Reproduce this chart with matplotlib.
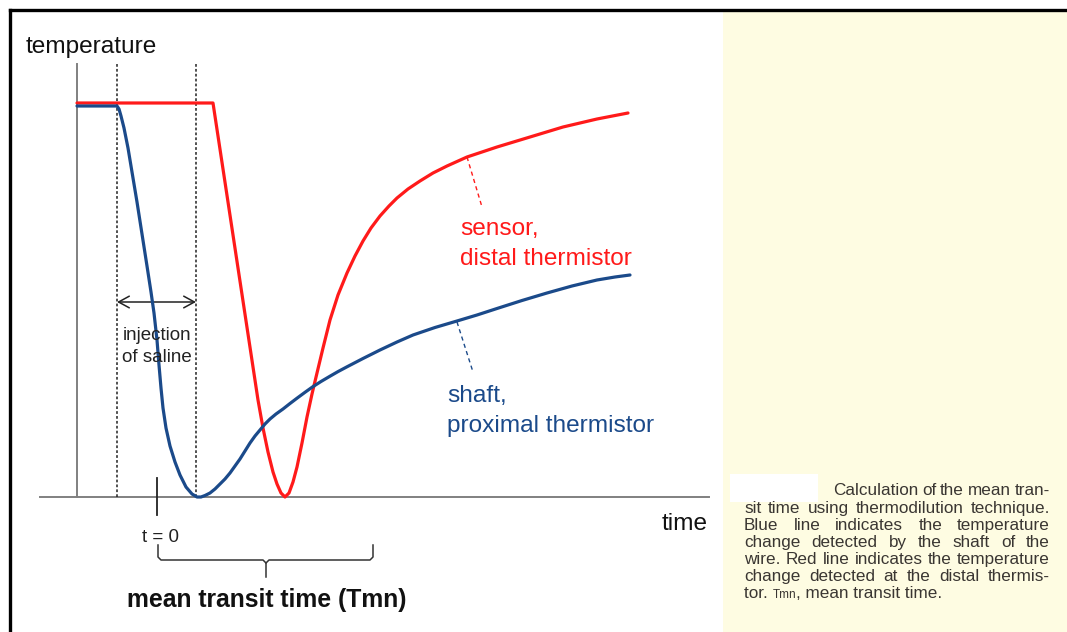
import matplotlib
matplotlib.use('Agg')
import matplotlib.pyplot as plt
from matplotlib.transforms import Affine2D
from matplotlib.patches import Rectangle, FancyArrowPatch
from matplotlib.lines import Line2D

W, H = 1067, 632

# ---------------- data (arbitrary units: time 0 at the "t = 0" mark;
# temperature 0 at the lowest point, resting level ~394) ----------------
time_red = [-80, 56, 101, 106, 111, 116, 120, 124, 128, 132,
            136, 140, 145, 150, 155, 160, 166, 173, 181, 190,
            198, 206, 214, 223, 232, 240, 251, 263, 276, 290,
            310, 340, 373, 406, 440, 471]
temp_red = [394, 394, 97, 69, 45, 25, 13, 4, 0, 4,
            15, 30, 54, 80, 103, 124, 149, 177, 202, 224,
            241, 256, 269, 281, 291, 299, 308, 316, 324, 331,
            340, 350, 360, 370, 378, 384]

time_blue = [-80, -40, -38, -36, -33, -29, -25, -20, -15, -10,
             -6, -3, 0, 2, 4, 6, 9, 13, 18, 23,
             29, 35, 40, 44, 48, 53, 58, 63, 68, 73,
             78, 83, 88, 93, 98, 103, 108, 113, 119, 126,
             133, 140, 148, 156, 164, 173, 181, 190, 206, 223,
             240, 256, 278, 300, 320, 340, 365, 390, 415, 440,
             458, 473]
temp_blue = [391, 391, 388, 381, 369, 349, 325, 295, 263, 231,
             205, 184, 157, 132, 109, 89, 69, 51, 35, 22,
             10, 3, 0, 0, 1.5, 4, 8, 13, 18, 24,
             31, 38, 46, 54, 61, 67, 73, 78, 83, 88,
             93.5, 98.8, 104.7, 110.4, 115.5, 120.8, 125.4, 130.2, 138.5, 147,
             155, 162, 169.5, 176, 182, 188.5, 196.5, 204, 211, 217,
             220, 222]

injection_start, injection_end = -40, 39
t_zero = 0

y_label = "temperature"
x_label = "time"
red_label = ["sensor,", "distal thermistor"]
blue_label = ["shaft,", "proximal thermistor"]
injection_label = ["injection", "of saline"]
t0_label = "t = 0"
tmn_label = "mean transit time (Tmn)"
caption_lines = [
    "Calculation of the mean tran-",
    "sit time using thermodilution technique.",
    "Blue line indicates the temperature",
    "change detected by the shaft of the",
    "wire. Red line indicates the temperature",
    "change detected at the distal thermis-",
]
caption_last = ["tor. ", "Tmn", ", mean transit time."]

RED = '#FF1A1A'
BLUE = '#1B4A8A'
GRAY = '#808080'
DARK = '#222222'
CAP = '#3a3632'

plt.rcParams['font.family'] = ['Liberation Sans', 'DejaVu Sans']

fig = plt.figure(figsize=(W / 100, H / 100), dpi=100)
fig.patch.set_facecolor('white')
pix = Affine2D().scale(1, -1).translate(0, H)

# right caption panel and frame
fig.add_artist(Rectangle((723, 12), W - 723, H - 12, transform=pix,
                         facecolor='#FEFCE2', edgecolor='none', zorder=0))
fig.add_artist(Line2D([10, W], [10, 10], transform=pix, color='black', lw=2.4))
fig.add_artist(Line2D([10, 10], [10, H], transform=pix, color='black', lw=2.4))
fig.add_artist(Rectangle((730, 474), 88, 28, transform=pix,
                         facecolor='white', edgecolor='none', zorder=1))

ax = fig.add_axes([0, 0, 1, 1])
ax.set_xlim(-157, W - 157)
ax.set_ylim(497 - H, 497)
ax.axis('off')
ax.patch.set_alpha(0)

# axes lines
top = 433
ax.plot([-80, -80], [0, top], color=GRAY, lw=1.4, zorder=1)
ax.plot([-117, 552], [0, 0], color=GRAY, lw=1.4, zorder=1)
for xv in (injection_start, injection_end):
    ax.plot([xv, xv], [0, top], color=DARK, lw=1.1, dashes=(1.8, 1.4), zorder=1)
ax.plot([t_zero, t_zero], [19, -18], color=DARK, lw=1.3)

# curves
ax.plot(time_red, temp_red, color=RED, lw=2.3, solid_joinstyle='round',
        solid_capstyle='round', zorder=3)
ax.plot(time_blue, temp_blue, color=BLUE, lw=2.3, solid_joinstyle='round',
        solid_capstyle='round', zorder=3)

# leaders
ax.plot([310, 325], [340, 290], color=RED, lw=1.0, dashes=(3, 2.5))
ax.plot([300, 316], [175, 125], color=BLUE, lw=1.0, dashes=(3, 2.5))

# injection arrow
arr = FancyArrowPatch((injection_start, 195), (injection_end, 195),
                      arrowstyle='<->,head_length=0.55,head_width=0.3',
                      mutation_scale=14, lw=1.1, color=DARK,
                      shrinkA=0, shrinkB=0)
ax.add_patch(arr)

# bracket
bx0, bx1, bxm = 158, 373, 266
fig.add_artist(Line2D([bx0, bx0, bx0 + 3, bxm - 3, bxm, bxm],
                      [545, 557, 560, 560, 563, 577], transform=pix,
                      color='#333333', lw=1.1))
fig.add_artist(Line2D([bx1, bx1, bx1 - 3, bxm + 3, bxm],
                      [545, 557, 560, 560, 563], transform=pix,
                      color='#333333', lw=1.1))

# texts
def ptext(x, y, s, **kw):
    kw.setdefault('va', 'baseline')
    return fig.text(x, y, s, transform=pix, **kw)

ptext(26, 53, y_label, fontsize=17.6, color='#111111')
ptext(662, 530, x_label, fontsize=17.6, color='#111111')
ptext(460, 235, red_label[0], fontsize=17.6, color=RED)
ptext(460, 265, red_label[1], fontsize=17.6, color=RED)
ptext(447, 402, blue_label[0], fontsize=17.6, color=BLUE)
ptext(447, 432, blue_label[1], fontsize=17.6, color=BLUE)
ptext(157, 340, injection_label[0], fontsize=13.5, color='#222222', ha='center')
ptext(157, 362, injection_label[1], fontsize=13.5, color='#222222', ha='center')
ptext(161, 542, t0_label, fontsize=13.5, color='#222222', ha='center')
ptext(267, 607, tmn_label, fontsize=17.8, fontweight='bold', color='#111111', ha='center')

# justified caption
renderer = fig.canvas.get_renderer()
cap_fs = 12.3
baselines = [495, 513, 530, 547, 564, 581, 598]
left, right = 744, 1050

def width_of(t):
    return t.get_window_extent(renderer).width

for i, line in enumerate(caption_lines):
    words = line.split(' ')
    x0 = 833 if i == 0 else left
    objs = [ptext(0, baselines[i], w, fontsize=cap_fs, color=CAP) for w in words]
    widths = [width_of(o) for o in objs]
    gap = (right - x0 - sum(widths)) / (len(words) - 1)
    x = x0
    for o, w in zip(objs, widths):
        o.set_position((x, baselines[i]))
        x += w + gap

x = left
sizes = [cap_fs, 8.5, cap_fs]
for piece, fs in zip(caption_last, sizes):
    o = ptext(x, baselines[-1], piece, fontsize=fs, color=CAP)
    x += width_of(o)

fig.savefig('out.png', dpi=100)
